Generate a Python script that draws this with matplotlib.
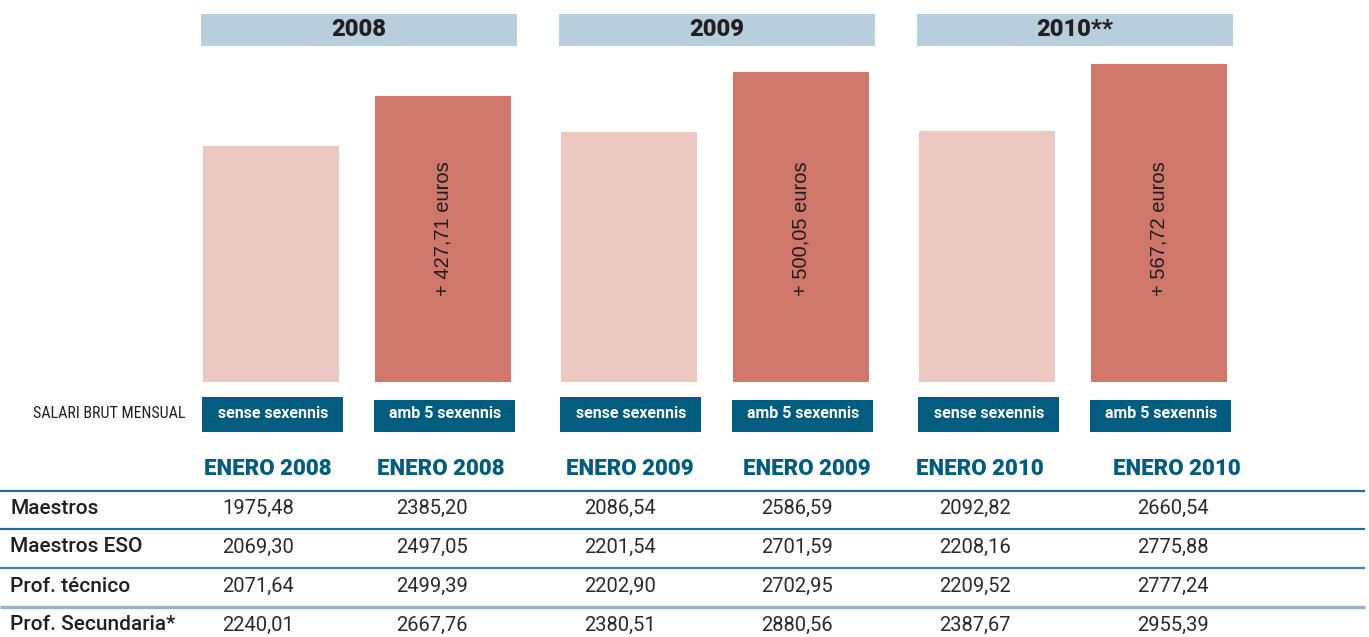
import numpy as np
import matplotlib
matplotlib.use("Agg")
import matplotlib.pyplot as plt
from matplotlib import font_manager
from matplotlib.patches import Rectangle

# data
years = ["2008", "2009", "2010**"]
bar_labels = ["sense sexennis", "amb 5 sexennis"]
col_heads = ["ENERO 2008", "ENERO 2008", "ENERO 2009", "ENERO 2009", "ENERO 2010", "ENERO 2010"]
rows = ["Maestros", "Maestros ESO", "Prof. técnico", "Prof. Secundaria*"]
maestros = [1975.48, 2385.20, 2086.54, 2586.59, 2092.82, 2660.54]
maestros_eso = [2069.30, 2497.05, 2201.54, 2701.59, 2208.16, 2775.88]
prof_tecnico = [2071.64, 2499.39, 2202.90, 2702.95, 2209.52, 2777.24]
prof_secundaria = [2240.01, 2667.76, 2380.51, 2880.56, 2387.67, 2955.39]
diff_labels = ["+ 427,71 euros", "+ 500,05 euros", "+ 567,72 euros"]
table = [maestros, maestros_eso, prof_tecnico, prof_secundaria]

names = {f.name for f in font_manager.fontManager.ttflist}
narrow = "Roboto Condensed" if "Roboto Condensed" in names else "Roboto"
plt.rcParams["font.family"] = ["Roboto", "DejaVu Sans"]

W, H = 1369, 637
fig = plt.figure(figsize=(W / 100, H / 100), dpi=100)

# x units: group centres at 0,1,2 (358 px apart)
sp = 358.0
x0 = -359 / sp
x1 = x0 + W / sp
base_px = 382

ax = fig.add_axes([0, (H - base_px) / H, 1, base_px / H])
ax.set_xlim(x0, x1)
ax.set_ylim(0, base_px / 0.1197)
ax.axis("off")
ax.set_zorder(1)

lay = fig.add_axes([0, 0, 1, 1])
lay.set_xlim(x0, x1)
lay.set_ylim(H, 0)
lay.axis("off")
lay.set_zorder(2)

light = "#ebc9c0"
dark = "#cf776b"
navy = "#005d80"
head_bg = "#b7cfdc"
txt = "#231f20"

off = 86 / sp
bw = 136 / sp
groups = np.arange(3)
xs = np.ravel(np.column_stack([groups - off, groups + off]))
colors = [light, dark] * 3
ax.bar(xs - 2 / sp, maestros, width=bw, color=colors, align="center")

# table columns sit a bit apart from the bars in the original layout
head_x = x0 + np.array([268, 441, 630, 807, 980, 1177]) / sp
val_x = x0 + np.array([258, 432, 620, 797, 975, 1173]) / sp

for g in groups:
    lay.add_patch(Rectangle((g - 158 / sp, 14), 316 / sp, 32, color=head_bg, lw=0))
    lay.text(g, 29, years[g], ha="center", va="center", fontsize=17,
             fontweight="heavy", color=txt)
    lay.text(g + off - 2 / sp, 229, diff_labels[g], rotation=90, ha="center", va="center",
             fontsize=14.5, color="#1e1e1e", family=["Liberation Sans", "DejaVu Sans"])
    for k, sgn in enumerate([-1, 1]):
        top = 397 if k == 0 else 400
        lay.add_patch(Rectangle((g + sgn * off - 71 / sp, top), 141 / sp, 432 - top,
                                color=navy, lw=0))
        lay.text(g + sgn * off, 414, bar_labels[k], ha="center", va="center",
                 fontsize=11.5, fontweight="bold", color="white")

lay.text(x0 + 33 / sp, 414, "SALARI BRUT MENSUAL", ha="left", va="center",
         fontsize=11.5, color=txt, family=[narrow, "DejaVu Sans"])

for i, h in enumerate(col_heads):
    lay.text(head_x[i], 469, h, ha="center", va="center", fontsize=16,
             fontweight="heavy", color=navy)

line_y = [491, 529, 568, 607]
line_c = ["#1f6e94", "#1f6e94", "#3f86a8", "#8fb5c9"]
line_w = [1.6, 1.6, 1.6, 2.4]
for y, c, w in zip(line_y, line_c, line_w):
    lay.plot([x0, x0 + 1365 / sp], [y, y], color=c, lw=w, solid_capstyle="butt")

row_y = [508, 547, 586, 625]
for r, (name, vals) in enumerate(zip(rows, table)):
    lay.text(x0 + 10 / sp, row_y[r], name, ha="left", va="center", fontsize=15,
             fontweight="medium", color=txt)
    for i, v in enumerate(vals):
        s = f"{v:.2f}".replace(".", ",")
        lay.text(val_x[i], row_y[r], s, ha="center", va="center", fontsize=14.5,
                 fontweight="normal", color="#2a2a2a")

fig.savefig("out.png", dpi=100)
